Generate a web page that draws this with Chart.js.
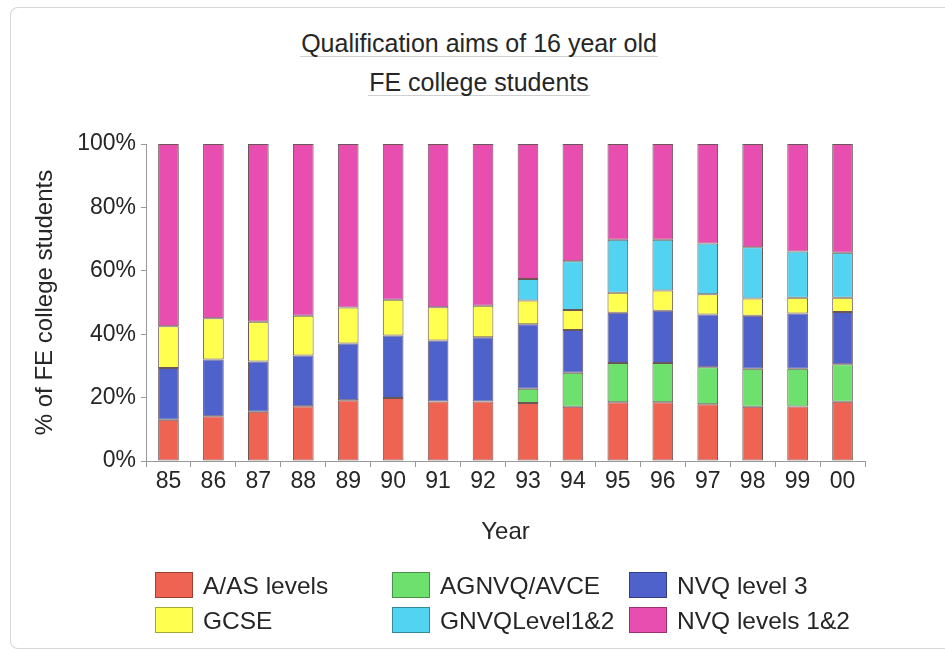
<!DOCTYPE html>
<html>
<head>
<meta charset="utf-8">
<script src="https://cdn.jsdelivr.net/npm/chart.js@4/dist/chart.umd.min.js"></script>
<style>
  body { margin: 0; background: #fff; overflow: hidden; }
  #wrap { position: relative; width: 945px; height: 651px; overflow: hidden;
          font-family: "Liberation Sans", Arial, sans-serif; color: #262626; }
  #frame { position: absolute; left: 10px; top: 7px; width: 960px; height: 640px;
           border: 1px solid #d6d6d6; border-right: none; border-radius: 8px 0 0 8px; }
  .title { position: absolute; left: 0; width: 958px; text-align: center; font-size: 25px; line-height: 26px; }
  .title span { display: inline-block; border-bottom: 1px solid #d0d0d0; padding: 0 1px 0 1px; }
  #legend { position: absolute; left: 0; top: 0; }
  .item { position: absolute; height: 25px; font-size: 24.5px; line-height: 25px; white-space: nowrap; }
  .item i { position: absolute; left: 0; top: 0; width: 36px; height: 24px; border: 1px solid rgba(0,0,0,0.35); }
  .item b { position: absolute; top: 1px; font-weight: normal; }
  canvas { position: absolute; left: 0; top: 0; }
</style>
</head>
<body>
<div id="wrap">
  <div id="frame"></div>
  <div class="title" style="top:30px"><span>Qualification aims of 16 year old</span></div>
  <div class="title" style="top:69px"><span>FE college students</span></div>
  <canvas id="chart0" width="945" height="651"></canvas>
  <div id="legend"></div>
</div>
<script>
const years = ["85", "86", "87", "88", "89", "90", "91", "92", "93", "94", "95", "96", "97", "98", "99", "00"];

const a_as_levels = [13.0, 14.1, 15.5, 17.3, 19.2, 19.9, 18.8, 18.8, 18.3, 17.1, 18.5, 18.5, 17.9, 17.1, 17.2, 18.7];
const agnvq_avce = [null, null, null, null, null, null, null, null, 4.5, 10.7, 12.4, 12.4, 11.7, 12.0, 11.9, 11.8];
const nvq_level3 = [16.3, 17.9, 15.9, 16.0, 17.9, 19.7, 19.2, 20.2, 20.3, 13.5, 15.9, 16.5, 16.6, 16.7, 17.4, 16.5];
const gcse = [13.2, 13.0, 12.5, 12.5, 11.3, 11.3, 10.5, 10.0, 7.5, 6.3, 6.3, 6.4, 6.4, 5.5, 5.0, 4.5];
const gnvq_level12 = [null, null, null, null, null, null, null, null, 6.8, 15.4, 16.7, 16.0, 16.0, 16.1, 14.6, 14.2];
const nvq_levels12 = [57.5, 55.0, 56.1, 54.2, 51.6, 49.1, 51.5, 51.0, 42.6, 37.0, 30.2, 30.2, 31.4, 32.6, 33.9, 34.3];

const series = [
  { label: "A/AS levels", data: a_as_levels, colour: "#ee6352" },
  { label: "AGNVQ/AVCE", data: agnvq_avce, colour: "#6ee06e" },
  { label: "NVQ level 3", data: nvq_level3, colour: "#4f62cc" },
  { label: "GCSE", data: gcse, colour: "#ffff50" },
  { label: "GNVQLevel1&2", data: gnvq_level12, colour: "#52d3f2" },
  { label: "NVQ levels 1&2", data: nvq_levels12, colour: "#e84db0" },
];

const family = "'Liberation Sans', Arial, sans-serif";
const tick_font = { family: family, size: 23 };
const title_font = { family: family, size: 24 };

new Chart(document.getElementById("chart0"), {
  type: "bar",
  data: {
    labels: years,
    datasets: series.map((s) => ({
      label: s.label,
      data: s.data,
      backgroundColor: s.colour,
      borderColor: "rgba(70,45,45,0.8)",
      borderWidth: 1,
      borderSkipped: false,
      categoryPercentage: 1,
      barPercentage: 0.46,
    })),
  },
  options: {
    responsive: false,
    animation: false,
    layout: { padding: { left: 10, right: 80, top: 144, bottom: 104 } },
    plugins: { legend: { display: false }, tooltip: { enabled: false } },
    scales: {
      x: {
        stacked: true,
        grid: { drawOnChartArea: false, tickLength: 6, color: "#999", offset: true },
        border: { color: "#999" },
        ticks: { font: tick_font, color: "#262626", padding: 1 },
        title: { display: true, text: "Year", font: title_font, color: "#262626", padding: { top: 1, bottom: 0 } },
        afterFit: (scale) => { scale.height = 86; },
      },
      y: {
        stacked: true,
        min: 0,
        max: 100,
        grid: { drawOnChartArea: false, tickLength: 5, color: "#999" },
        border: { color: "#999" },
        ticks: { stepSize: 20, font: tick_font, color: "#262626", padding: 5, callback: (v) => v + "%" },
        title: { display: true, text: "% of FE college students", font: title_font, color: "#262626", padding: { top: 21, bottom: 0 } },
        afterFit: (scale) => { scale.width = 136; },
      },
    },
  },
});

// legend in three columns, same order as the stack
const legend = document.getElementById("legend");
const cols = [155, 392, 629];
const rows = [572, 607];
series.forEach((s, i) => {
  const el = document.createElement("div");
  el.className = "item";
  el.style.left = cols[i % 3] + "px";
  el.style.top = rows[Math.floor(i / 3)] + "px";
  el.innerHTML = '<i style="background:' + s.colour + '"></i><b style="left:48px"></b>';
  el.querySelector("b").textContent = s.label;
  legend.appendChild(el);
});
</script>
</body>
</html>
